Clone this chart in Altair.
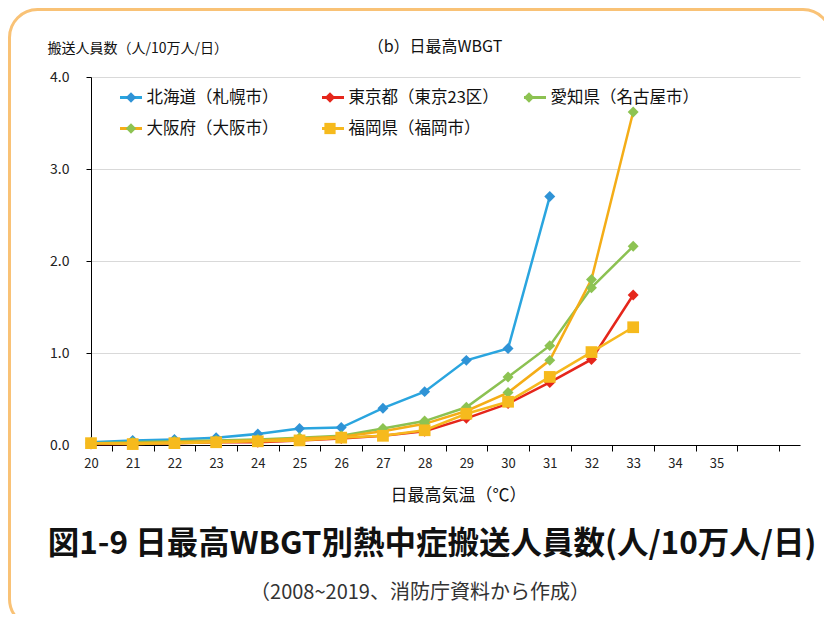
import altair as alt
import pandas as pd

FONT = "Noto Sans CJK JP"

# ---- data ----
temps = list(range(20, 34))
series_names = ["北海道（札幌市）", "東京都（東京23区）", "愛知県（名古屋市）", "大阪府（大阪市）", "福岡県（福岡市）"]
series_codes = ["s0", "s1", "s2", "s3", "s4"]
hokkaido = [0.03, 0.05, 0.06, 0.08, 0.12, 0.18, 0.19, 0.40, 0.58, 0.92, 1.05, 2.70]
tokyo = [0.01, 0.01, 0.02, 0.03, 0.03, 0.05, 0.07, 0.10, 0.15, 0.29, 0.45, 0.68, 0.93, 1.63]
aichi = [0.02, 0.03, 0.04, 0.05, 0.06, 0.08, 0.10, 0.18, 0.26, 0.41, 0.74, 1.08, 1.71, 2.16]
osaka = [0.02, 0.02, 0.03, 0.04, 0.05, 0.07, 0.09, 0.15, 0.23, 0.37, 0.57, 0.92, 1.80, 3.62]
fukuoka = [0.02, 0.01, 0.02, 0.03, 0.04, 0.05, 0.08, 0.10, 0.16, 0.34, 0.47, 0.74, 1.01, 1.28]
series_values = [hokkaido, tokyo, aichi, osaka, fukuoka]

x_tick_values = [v + 0.5 for v in range(20, 37)]   # ticks between categories
x_last_label = 35
y_values = [0, 1, 2, 3, 4]

panel_title = "（b）日最高WBGT"
y_title = "搬送人員数（人/10万人/日）"
x_title = "日最高気温（℃）"
main_title = "図1-9 日最高WBGT別熱中症搬送人員数(人/10万人/日)"
source_note = "（2008~2019、消防庁資料から作成）"

# ---- styles ----
line_colors = ["#2AA5DF", "#E5261B", "#8CC152", "#F4AD17", "#F6B81E"]
marker_colors = ["#2F93D6", "#E5261B", "#8DC352", "#8DC352", "#F6BA1D"]
diamond = "M-0.42,0L0,-0.42L0.42,0L0,0.42Z"
square = "M-0.45,-0.45L0.45,-0.45L0.45,0.45L-0.45,0.45Z"
marker_shapes = [diamond, diamond, diamond, diamond, square]

rows = []
for i, (name, code, vals) in enumerate(zip(series_names, series_codes, series_values)):
    for t, v in zip(temps, vals):
        rows.append({"temp": t, "value": v, "series": name, "m": code, "idx": i})
df = pd.DataFrame(rows)

unit_px = 709 / 17.0
x_axis = alt.Axis(
    values=x_tick_values,
    labelExpr=f"datum.value < {x_last_label + 1} ? format(datum.value - 0.5, 'd') : ''",
    labelOffset=-unit_px / 2,
    grid=False, tickSize=6, tickColor="black", domainColor="black",
    labelFont=FONT, labelFontSize=13, labelColor="#222", labelPadding=6,
    labelOverlap=False, labelFlush=False,
    title=x_title, titleFont=FONT, titleFontSize=17, titleFontWeight="normal",
    titleColor="#111", titleX=367, titleY=50, titleAlign="center", titleBaseline="middle",
)
y_axis = alt.Axis(
    values=y_values, format=".1f", grid=True, gridColor="#D9D9D9", gridWidth=1,
    tickSize=5, tickColor="black", domainColor="black",
    labelFont=FONT, labelFontSize=14, labelColor="#222", labelPadding=17,
    title=y_title, titleFont=FONT, titleFontSize=14, titleFontWeight="normal",
    titleColor="#111", titleAngle=0, titleAlign="left", titleBaseline="middle",
    titleX=-44, titleY=-29,
)

legend_common = dict(
    title=None, orient="none", direction="horizontal", legendX=27.5, legendY=8,
    columns=3, gridAlign="all", rowPadding=10,
    labelFont=FONT, labelFontSize=16.5,
    labelColor="#111", padding=0, symbolOpacity=1,
)
legend_lines = alt.Legend(
    symbolType="M-1,0L1,0", symbolSize=484, symbolStrokeWidth=3,
    labelOffset=3, columnPadding=18, **legend_common
)
# marker overlay legend: no label text, column pitch matched to the line legend
legend_marks = alt.Legend(
    symbolSize=625, symbolStrokeWidth=0, labelExpr="''",
    labelOffset=0, columnPadding=174, **legend_common
)

x_enc = alt.X("temp:Q", scale=alt.Scale(domain=[20, 37], nice=False, zero=False), axis=x_axis)
y_enc = alt.Y("value:Q", scale=alt.Scale(domain=[0, 4], nice=False), axis=y_axis)

lines = alt.Chart(df).mark_line(strokeWidth=2.5).encode(
    x=x_enc, y=y_enc,
    stroke=alt.Stroke("series:N", scale=alt.Scale(domain=series_names, range=line_colors), legend=legend_lines),
)
points = alt.Chart(df).mark_point(filled=True, opacity=1, size=680, strokeWidth=0).encode(
    x="temp:Q", y="value:Q",
    fill=alt.Fill("m:N", scale=alt.Scale(domain=series_codes, range=marker_colors), legend=legend_marks),
    shape=alt.Shape("m:N", scale=alt.Scale(domain=series_codes, range=marker_shapes), legend=legend_marks),
    order=alt.Order("idx:Q"),
)

one = pd.DataFrame({"k": [0]})
border = alt.Chart(one).mark_rect(
    fill="white", fillOpacity=0, stroke="#F9C276", strokeWidth=3, cornerRadius=28
).encode(x=alt.value(-81.5), x2=alt.value(740), y=alt.value(-67.5), y2=alt.value(550))

t_panel = alt.Chart(pd.DataFrame({"label": [panel_title]})).mark_text(
    font=FONT, fontSize=16, color="#111", align="center", baseline="middle"
).encode(x=alt.value(344), y=alt.value(-30), text="label:N")
t_main = alt.Chart(pd.DataFrame({"label": [main_title]})).mark_text(
    font=FONT, fontSize=31.5, fontWeight="bold", color="#111", align="center", baseline="middle"
).encode(x=alt.value(341), y=alt.value(468), text="label:N")
t_src = alt.Chart(pd.DataFrame({"label": [source_note]})).mark_text(
    font=FONT, fontSize=20, color="#333", align="center", baseline="middle"
).encode(x=alt.value(329), y=alt.value(516), text="label:N")

chart = alt.layer(border, lines, points, t_panel, t_main, t_src).properties(
    width=709, height=368,
    autosize=alt.AutoSizeParams(type="none"),
    padding={"left": 83, "top": 69, "right": 24, "bottom": 169},
).configure(font=FONT).configure_view(strokeWidth=0)

chart.save("out.html", embed_options={"renderer": "svg", "actions": False})
